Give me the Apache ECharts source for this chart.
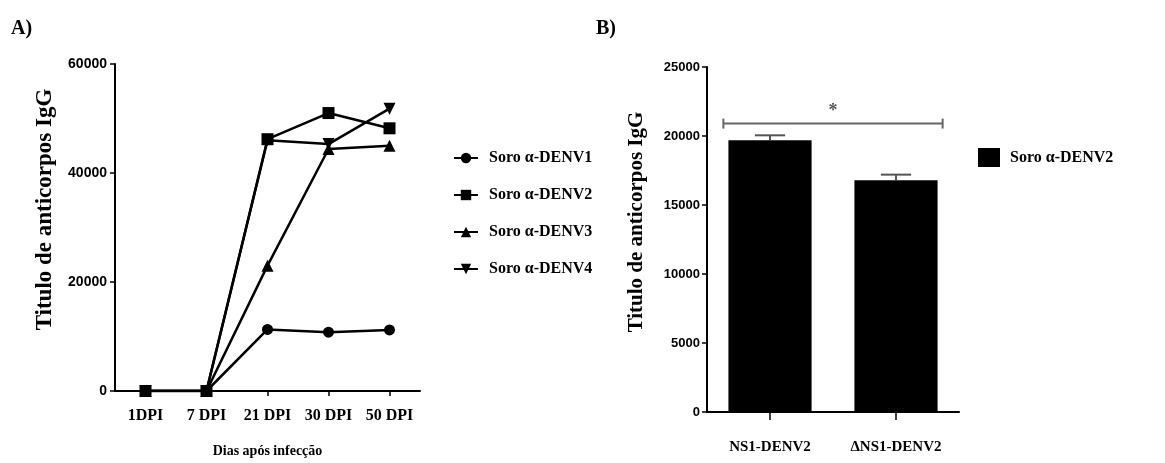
<!DOCTYPE html>
<html>
<head>
<meta charset="utf-8">
<script src="https://cdn.jsdelivr.net/npm/echarts@6/dist/echarts.min.js"></script>
<style>
html, body { margin: 0; padding: 0; background: #fff; }
#chart { width: 1165px; height: 463px; }
</style>
</head>
<body>
<div id="chart"></div>
<script>
// Painel A - titulo de IgG por dia apos infeccao
const diasLabels = ['1DPI', '7 DPI', '21 DPI', '30 DPI', '50 DPI'];
const soroNames = ['Soro α-DENV1', 'Soro α-DENV2', 'Soro α-DENV3', 'Soro α-DENV4'];
const denv1 = [0, 0, 11300, 10800, 11200];
const denv2 = [0, 0, 46200, 51000, 48200];
const denv3 = [0, 0, 23000, 44400, 45000];
const denv4 = [0, 0, 46000, 45300, 51800];

// Painel B - NS1 vs delta NS1
const proteinLabels = ['NS1-DENV2', 'ΔNS1-DENV2'];
const barValues = [19700, 16800];
const barErrors = [350, 400];
const sigLevel = 20900;
// nbsp so the bar legend doesn't collide with the line series of the same name
const barName = 'Soro\u00a0α-DENV2';

const SERIF = '"Liberation Serif", "DejaVu Serif", serif';
const SANS = '"Liberation Sans", Arial, sans-serif';

const symbols = ['circle', 'rect', 'triangle', 'path://M0,0L10,0L5,9Z'];
const lineData = [denv1, denv2, denv3, denv4];

const chart = echarts.init(document.getElementById('chart'));

const lineSeries = soroNames.map((name, i) => ({
    name: name,
    type: 'line',
    xAxisIndex: 0,
    yAxisIndex: 0,
    data: lineData[i],
    symbol: symbols[i],
    symbolSize: i === 0 ? 11 : 12,
    showAllSymbol: true,
    lineStyle: { color: '#000', width: 2.5 },
    itemStyle: { color: '#000' },
    emphasis: { disabled: true },
    z: 3
}));

function axisCommon() {
    return {
        axisLine: { show: true, onZero: false, lineStyle: { color: '#000', width: 2 } },
        axisTick: { show: true, lineStyle: { color: '#000', width: 1.5 } },
        splitLine: { show: false }
    };
}

const plainNum = v => String(v);

const option = {
    animation: false,
    backgroundColor: '#fff',
    textStyle: { color: '#000' },
    title: [
        { text: 'A)', left: 6, top: 14, textStyle: { fontFamily: SERIF, fontWeight: 'bold', fontSize: 20, color: '#000' } },
        { text: 'B)', left: 591, top: 14, textStyle: { fontFamily: SERIF, fontWeight: 'bold', fontSize: 20, color: '#000' } }
    ],
    legend: [
        {
            data: soroNames,
            orient: 'vertical',
            left: 453,
            top: 150,
            padding: 0,
            itemWidth: 24,
            itemHeight: 13,
            itemGap: 21,
            selectedMode: false,
            textStyle: { fontFamily: SERIF, fontWeight: 'bold', fontSize: 16, color: '#000', padding: [0, 0, 0, 6] }
        },
        {
            data: [{ name: barName, icon: 'rect' }],
            left: 978,
            top: 148,
            padding: 0,
            itemWidth: 22,
            itemHeight: 19,
            selectedMode: false,
            textStyle: { fontFamily: SERIF, fontWeight: 'bold', fontSize: 16, color: '#000', padding: [0, 0, 0, 5] }
        }
    ],
    grid: [
        { left: 115, top: 64, width: 305, height: 327, outerBoundsMode: 'none', containLabel: false },
        { left: 707, top: 67, width: 252, height: 345, outerBoundsMode: 'none', containLabel: false }
    ],
    xAxis: [
        Object.assign(axisCommon(), {
            type: 'category',
            gridIndex: 0,
            data: diasLabels,
            boundaryGap: true,
            axisTick: { show: true, alignWithLabel: true, length: 5, lineStyle: { color: '#000', width: 1.5 } },
            axisLabel: { margin: 17, fontFamily: SERIF, fontWeight: 'bold', fontSize: 16, color: '#000', interval: 0 },
            name: 'Dias após infecção',
            nameLocation: 'middle',
            nameGap: 53,
            nameTextStyle: { fontFamily: SERIF, fontWeight: 'bold', fontSize: 14, color: '#000' }
        }),
        Object.assign(axisCommon(), {
            type: 'category',
            gridIndex: 1,
            data: proteinLabels,
            boundaryGap: true,
            axisTick: { show: true, alignWithLabel: true, length: 8, lineStyle: { color: '#000', width: 1.5 } },
            axisLabel: { margin: 28, fontFamily: SERIF, fontWeight: 'bold', fontSize: 15, color: '#000', interval: 0 }
        })
    ],
    yAxis: [
        Object.assign(axisCommon(), {
            type: 'value',
            gridIndex: 0,
            min: 0,
            max: 60000,
            interval: 20000,
            axisTick: { show: true, length: 5, lineStyle: { color: '#000', width: 1.5 } },
            axisLabel: { margin: 8, fontFamily: SANS, fontWeight: 'bold', fontSize: 14, color: '#000', formatter: plainNum },
            name: 'Titulo de anticorpos IgG',
            nameLocation: 'middle',
            nameRotate: 90,
            nameGap: 58,
            nameTextStyle: { fontFamily: SERIF, fontWeight: 'bold', fontSize: 23, color: '#000', padding: [0, 0, 0, 36] }
        }),
        Object.assign(axisCommon(), {
            type: 'value',
            gridIndex: 1,
            min: 0,
            max: 25000,
            interval: 5000,
            axisTick: { show: true, length: 5, lineStyle: { color: '#000', width: 1.5 } },
            axisLabel: { margin: 7, fontFamily: SANS, fontWeight: 'bold', fontSize: 13, color: '#000', formatter: plainNum },
            name: 'Titulo de anticorpos IgG',
            nameLocation: 'middle',
            nameRotate: 90,
            nameGap: 60,
            nameTextStyle: { fontFamily: SERIF, fontWeight: 'bold', fontSize: 21, color: '#000', padding: [0, 0, 0, 35] }
        })
    ],
    series: lineSeries.concat([
        {
            name: barName,
            type: 'bar',
            xAxisIndex: 1,
            yAxisIndex: 1,
            data: barValues,
            barWidth: '66%',
            itemStyle: { color: '#000' },
            emphasis: { disabled: true },
            z: 2
        },
        {
            // barras de erro (so para cima)
            type: 'custom',
            xAxisIndex: 1,
            yAxisIndex: 1,
            silent: true,
            z: 4,
            data: barValues.map((v, i) => [i, v, barErrors[i]]),
            encode: { x: 0, y: 1 },
            renderItem: function (params, api) {
                const base = api.coord([api.value(0), api.value(1)]);
                const top = api.coord([api.value(0), api.value(1) + api.value(2)]);
                const cap = api.size([1, 0])[0] * 0.12;
                const st = { stroke: '#555', lineWidth: 2 };
                return {
                    type: 'group',
                    children: [
                        { type: 'line', shape: { x1: base[0], y1: base[1], x2: top[0], y2: top[1] }, style: st },
                        { type: 'line', shape: { x1: top[0] - cap, y1: top[1], x2: top[0] + cap, y2: top[1] }, style: st }
                    ]
                };
            }
        },
        {
            // linha de significancia com asterisco
            type: 'custom',
            xAxisIndex: 1,
            yAxisIndex: 1,
            silent: true,
            z: 4,
            data: [[0, 1, sigLevel]],
            encode: { x: [0, 1], y: 2 },
            renderItem: function (params, api) {
                const a = api.coord([api.value(0), api.value(2)]);
                const b = api.coord([api.value(1), api.value(2)]);
                const off = api.size([1, 0])[0] * 0.37;
                const x1 = a[0] - off, x2 = b[0] + off, y = a[1];
                const st = { stroke: '#666', lineWidth: 2 };
                return {
                    type: 'group',
                    children: [
                        { type: 'line', shape: { x1: x1, y1: y, x2: x2, y2: y }, style: st },
                        { type: 'line', shape: { x1: x1, y1: y - 5, x2: x1, y2: y + 5 }, style: st },
                        { type: 'line', shape: { x1: x2, y1: y - 5, x2: x2, y2: y + 5 }, style: st },
                        {
                            type: 'text',
                            style: {
                                text: '*', x: (x1 + x2) / 2, y: y - 3,
                                align: 'center', verticalAlign: 'bottom',
                                font: 'bold 18px ' + SERIF, fill: '#555'
                            }
                        }
                    ]
                };
            }
        }
    ])
};

chart.setOption(option);

window.addEventListener('resize', () => {
    chart.resize();
});
</script>
</body>
</html>
